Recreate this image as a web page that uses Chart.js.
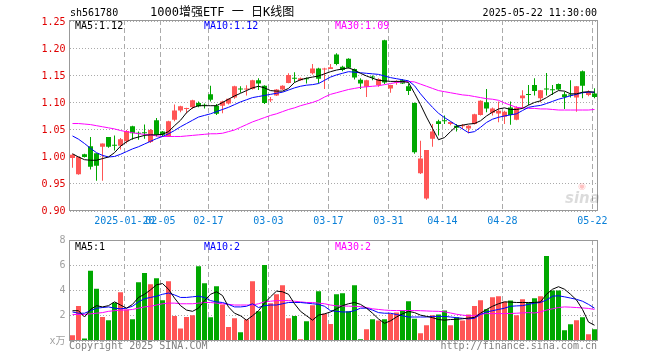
<!DOCTYPE html>
<html>
<head>
<meta charset="utf-8">
<script src="https://cdn.jsdelivr.net/npm/chart.js@4.4.0/dist/chart.umd.min.js"></script>
<style>
  body { margin: 0; background: #fff; width: 660px; height: 360px; position: relative; overflow: hidden;
         font-family: 'DejaVu Sans Mono', 'Noto Sans CJK SC', monospace; font-size: 10px; }
  canvas { position: absolute; left: 0; }
  .t { position: absolute; white-space: nowrap; line-height: 12px; }
</style>
</head>
<body>
<canvas id="kline" width="660" height="232" style="top:0"></canvas>
<canvas id="vol" width="660" height="130" style="top:230px"></canvas>

<div class="t" style="left:70px;top:7px">sh561780</div>
<div class="t" style="left:150px;top:6px;font-size:12px;font-family:'DejaVu Sans Mono','Noto Sans CJK SC',monospace">1000增强ETF 一 日K线图</div>
<div class="t" style="right:63px;top:7px">2025-05-22 11:30:00</div>
<div class="t" id="lg5" style="left:75px;top:20px;color:#000"></div>
<div class="t" id="lg10" style="left:204px;top:20px;color:#0000ff"></div>
<div class="t" id="lg30" style="left:335px;top:20px;color:#ff00ff"></div>
<div class="t" id="vg5" style="left:75px;top:241px;color:#000"></div>
<div class="t" id="vg10" style="left:204px;top:241px;color:#0000ff"></div>
<div class="t" id="vg30" style="left:335px;top:241px;color:#ff00ff"></div>
<div class="t" style="left:578px;top:181px;font:bold 9px 'DejaVu Sans',sans-serif;color:rgba(255,80,80,0.35)">◉</div>
<div class="t" style="left:565px;top:189px;font:italic bold 15px 'DejaVu Sans',sans-serif;color:rgba(0,0,0,0.14)">sina</div>
<div class="t" style="left:69px;top:340px;color:#808080">Copyright 2025 SINA.COM</div>
<div class="t" style="right:63px;top:340px;color:#808080">http://finance.sina.com.cn</div>

<script>
// ---- data ----
const opens = [0.998,0.968,1.005,1.020,1.007,1.019,1.037,1.022,1.021,1.029,
  1.057,1.044,1.045,1.028,1.068,1.047,1.038,1.069,1.086,1.089,
  1.092,1.100,1.096,1.116,1.095,1.095,1.099,1.110,1.1255,1.125,
  1.126,1.142,1.132,1.105,1.114,1.125,1.137,1.146,1.142,1.145,
  1.155,1.164,1.162,1.163,1.190,1.167,1.182,1.163,1.143,1.130,
  1.148,1.1335,1.216,1.127,1.138,1.142,1.131,1.100,0.970,0.923,
  1.034,1.066,1.0665,1.061,1.058,1.057,1.053,1.061,1.078,1.1015,
  1.082,1.0805,1.0744,1.0916,1.069,1.109,1.1155,1.1335,1.109,1.127,
  1.124,1.135,1.116,1.1145,1.110,1.159,1.115,1.1175];
const closes = [1.004,1.000,1.000,0.982,0.984,1.025,1.019,1.021,1.033,1.048,
  1.044,1.043,1.044,1.050,1.041,1.041,1.066,1.086,1.094,1.090,
  1.105,1.094,1.095,1.106,1.080,1.103,1.108,1.131,1.125,1.126,
  1.142,1.136,1.100,1.107,1.125,1.132,1.152,1.145,1.146,1.144,
  1.164,1.145,1.163,1.166,1.172,1.161,1.1655,1.147,1.136,1.142,
  1.147,1.1446,1.138,1.1335,1.139,1.136,1.122,1.009,0.997,1.013,
  1.047,1.061,1.066,1.065,1.054,1.059,1.058,1.079,1.104,1.090,
  1.090,1.0855,1.084,1.078,1.0916,1.114,1.115,1.1224,1.1236,1.125,
  1.1235,1.125,1.111,1.114,1.131,1.132,1.120,1.111];
const highs = [1.006,1.001,1.006,1.037,1.007,1.025,1.037,1.040,1.035,1.050,
  1.058,1.047,1.060,1.052,1.072,1.048,1.067,1.097,1.095,1.091,
  1.106,1.103,1.099,1.132,1.098,1.104,1.108,1.132,1.131,1.133,
  1.143,1.146,1.133,1.111,1.126,1.133,1.155,1.157,1.147,1.147,
  1.172,1.1655,1.1655,1.172,1.192,1.169,1.183,1.164,1.146,1.143,
  1.151,1.146,1.217,1.134,1.142,1.1446,1.136,1.101,1.030,1.013,
  1.061,1.069,1.077,1.0658,1.061,1.061,1.059,1.080,1.105,1.126,
  1.0915,1.103,1.0855,1.1027,1.094,1.1236,1.1335,1.146,1.124,1.1557,
  1.1335,1.136,1.121,1.142,1.1315,1.160,1.1236,1.1273];
const lows = [0.980,0.967,0.999,0.977,0.956,0.956,1.017,1.012,1.014,1.025,
  1.032,1.032,1.034,1.026,1.038,1.038,1.037,1.066,1.083,1.081,
  1.089,1.092,1.090,1.103,1.078,1.081,1.097,1.108,1.119,1.114,
  1.125,1.124,1.098,1.102,1.113,1.124,1.1365,1.138,1.141,1.136,
  1.153,1.136,1.126,1.163,1.170,1.159,1.164,1.1435,1.126,1.111,
  1.142,1.130,1.135,1.119,1.134,1.135,1.115,1.006,0.9685,0.921,
  1.019,1.040,1.061,1.059,1.047,1.052,1.044,1.060,1.077,1.083,
  1.077,1.0645,1.061,1.0596,1.068,1.090,1.0965,1.114,1.1015,1.114,
  1.115,1.1236,1.089,1.110,1.084,1.109,1.1126,1.109];

// price moving averages as drawn
const ma5 = [1.006,1.000,0.995,0.994,0.994,0.997,1.000,1.008,1.020,1.028,
  1.034,1.037,1.040,1.041,1.041,1.042,1.047,1.058,1.068,1.082,
  1.091,1.095,1.095,1.095,1.095,1.101,1.107,1.113,1.118,1.123,
  1.128,1.131,1.128,1.123,1.122,1.122,1.127,1.138,1.143,1.146,
  1.148,1.150,1.154,1.158,1.161,1.163,1.165,1.161,1.155,1.150,
  1.146,1.142,1.141,1.140,1.140,1.140,1.138,1.118,1.097,1.074,
  1.053,1.032,1.036,1.047,1.057,1.059,1.061,1.062,1.067,1.076,
  1.083,1.089,1.091,1.088,1.088,1.090,1.096,1.101,1.104,1.110,
  1.117,1.123,1.122,1.117,1.117,1.120,1.121,1.120];
const ma10 = [1.039,1.033,1.025,1.016,1.008,1.003,1.000,1.001,1.005,1.010,
  1.015,1.019,1.024,1.029,1.034,1.038,1.043,1.049,1.056,1.062,
  1.068,1.074,1.077,1.080,1.084,1.088,1.092,1.097,1.102,1.106,
  1.110,1.112,1.114,1.116,1.118,1.120,1.124,1.128,1.131,1.133,
  1.134,1.136,1.142,1.148,1.152,1.155,1.158,1.157,1.156,1.155,
  1.154,1.153,1.150,1.147,1.145,1.143,1.141,1.132,1.117,1.104,
  1.092,1.081,1.073,1.066,1.059,1.052,1.045,1.047,1.055,1.064,
  1.070,1.0735,1.076,1.078,1.080,1.086,1.092,1.094,1.0955,1.099,
  1.103,1.107,1.110,1.1135,1.116,1.119,1.120,1.120];
const ma30 = [1.062,1.062,1.061,1.060,1.058,1.056,1.054,1.052,1.049,1.047,
  1.045,1.043,1.042,1.041,1.039,1.038,1.038,1.038,1.038,1.039,
  1.040,1.041,1.042,1.043,1.043,1.044,1.047,1.050,1.055,1.060,
  1.065,1.069,1.073,1.077,1.080,1.084,1.088,1.091,1.095,1.098,
  1.101,1.105,1.111,1.116,1.119,1.122,1.125,1.127,1.129,1.130,
  1.131,1.132,1.134,1.136,1.138,1.139,1.140,1.139,1.135,1.131,
  1.127,1.123,1.121,1.119,1.117,1.115,1.114,1.112,1.110,1.108,
  1.107,1.105,1.100,1.096,1.092,1.091,1.090,1.090,1.089,1.089,
  1.088,1.087,1.087,1.087,1.087,1.087,1.087,1.088];

// volume, in 万
const volumes = [0.45,2.78,0.2,5.56,4.13,1.9,1.64,3.02,3.87,2.5,
  1.72,4.66,5.38,4.5,4.98,3.23,4.74,1.99,1.0,1.9,
  2.04,5.93,4.58,1.88,4.34,2.9,1.1,1.8,0.69,1.7,
  4.74,2.36,6.01,3.0,3.7,4.42,1.8,1.99,0.13,1.56,
  2.83,3.95,2.15,1.35,3.71,3.79,2.36,4.42,0.13,0.93,
  1.72,1.62,1.72,2.15,2.25,2.41,3.15,1.77,0.61,1.25,
  2.04,2.09,2.41,1.25,1.88,1.62,2.09,2.78,3.23,2.52,
  3.47,3.55,3.1,3.2,2.04,3.31,3.05,3.39,3.55,6.73,
  4.0,4.0,0.85,1.32,1.64,1.88,0.53,0.93];
const vma5 = [2.4,2.4,1.9,2.5,2.8,2.7,2.8,3.1,2.85,2.6,
  2.9,3.45,3.7,4.05,4.45,4.55,4.1,3.4,2.8,2.45,
  2.35,2.6,3.2,3.7,3.9,3.6,2.7,2.2,2.0,1.65,
  2.0,2.4,3.0,3.5,3.95,3.9,3.7,2.95,2.35,2.0,
  1.65,2.05,2.15,2.3,2.55,2.8,2.95,3.05,2.9,2.6,
  2.2,1.75,1.4,1.6,1.9,2.15,2.35,2.25,2.05,1.95,
  1.85,1.7,1.65,1.7,1.72,1.76,1.82,1.87,2.2,2.5,
  2.75,2.95,3.1,3.08,3.05,3.05,3.05,3.05,3.1,3.7,
  4.1,4.3,4.1,3.7,3.25,2.5,1.5,1.25];
const vma10 = [2.3,2.2,2.2,2.4,2.6,2.65,2.7,2.6,2.55,2.6,
  2.75,3.1,3.35,3.45,3.55,3.7,3.8,3.65,3.45,3.45,
  3.5,3.55,3.45,3.2,3.1,3.05,2.9,2.7,2.7,2.75,
  2.95,2.65,2.8,2.85,2.85,2.95,3.05,3.05,3.05,3.0,
  2.95,2.9,2.75,2.4,2.35,2.3,2.3,2.4,2.6,2.6,
  2.45,2.25,2.2,2.2,2.1,2.0,1.9,1.9,1.9,1.9,
  1.95,1.95,1.95,1.9,1.85,1.8,1.75,1.8,2.1,2.3,
  2.4,2.5,2.6,2.75,2.78,2.8,2.9,3.0,3.05,3.25,
  3.55,3.58,3.5,3.4,3.3,3.15,2.9,2.6];
const vma30 = [2.1,2.1,2.1,2.15,2.2,2.25,2.35,2.4,2.45,2.45,
  2.5,2.6,2.7,2.75,2.85,2.95,3.0,3.0,2.95,2.95,
  2.95,3.0,3.05,3.05,3.0,2.95,2.9,2.85,2.85,2.85,
  2.85,2.95,3.1,3.15,3.2,3.2,3.2,3.15,3.1,3.05,
  3.05,3.0,2.95,2.85,2.78,2.77,2.76,2.75,2.73,2.65,
  2.55,2.5,2.45,2.42,2.41,2.41,2.41,2.41,2.4,2.38,
  2.36,2.35,2.31,2.22,2.12,2.05,2.0,2.0,2.12,2.17,
  2.17,2.17,2.17,2.18,2.2,2.23,2.25,2.22,2.3,2.45,
  2.55,2.65,2.7,2.68,2.65,2.62,2.58,2.5];

// axes
const xTickIdx = [9, 15, 23, 33, 43, 53, 62, 72, 87];
const xTickLabels = ['2025-01-20', '02-05', '02-17', '03-03', '03-17', '03-31', '04-14', '04-28', '05-22'];
const priceTicks = [0.90, 0.95, 1.00, 1.05, 1.10, 1.15, 1.20, 1.25];
const volTicks = [0, 2, 4, 6, 8];

// ---- styling ----
const UP = '#ff5555';
const DOWN = '#00a800';
const GRID = '#aaaaaa';
const FONT = { family: "'DejaVu Sans Mono', 'Noto Sans CJK SC', monospace", size: 10 };

Chart.defaults.font.family = FONT.family;
Chart.defaults.font.size = FONT.size;

const days = closes.map((_, i) => i);
const candleColors = closes.map((c, i) => (c >= opens[i] ? UP : DOWN));

function maLine(data, color) {
  return { type: 'line', data, borderColor: color, borderWidth: 1, pointRadius: 0,
           tension: 0, fill: false, order: 0 };
}

// grey frame round the plot area
const framePlugin = {
  id: 'frame',
  afterDraw(chart) {
    const { ctx, chartArea: a } = chart;
    ctx.save();
    ctx.strokeStyle = '#999';
    ctx.lineWidth = 1;
    ctx.strokeRect(69.5, Math.round(a.top) + 0.5, 528, Math.round(a.bottom - a.top) - 1);
    ctx.restore();
  }
};

function xScale(height, showLabels) {
  return {
    offset: true,
    afterFit: s => { s.height = height; },
    afterBuildTicks: s => { s.ticks = xTickIdx.map(i => ({ value: i - 0.35 })); },
    ticks: { display: showLabels, autoSkip: false, maxRotation: 0, color: '#0a80d8', padding: 4,
             callback: (v, i) => xTickLabels[i] },
    grid: { color: GRID, drawTicks: false, offset: false },
    border: { display: false, dash: [5, 3] }
  };
}

// Candles: wick = floating bar low..high, body = floating bar open..close
new Chart(document.getElementById('kline'), {
  type: 'bar',
  data: {
    labels: days,
    datasets: [
      maLine(ma5, '#000000'),
      maLine(ma10, '#0000ff'),
      maLine(ma30, '#ff00ff'),
      { data: opens.map((o, i) => [o, closes[i]]), backgroundColor: candleColors,
        barThickness: 5, grouped: false, minBarLength: 1, inflateAmount: 0, order: 1 },
      { data: lows.map((l, i) => [l, highs[i]]), backgroundColor: candleColors,
        barThickness: 1, grouped: false, minBarLength: 1, inflateAmount: 0, order: 2 }
    ]
  },
  options: {
    responsive: false, animation: false,
    layout: { padding: { left: 0, right: 62.5, top: 20, bottom: 0 } },
    plugins: { legend: { display: false }, tooltip: { enabled: false } },
    scales: {
      x: xScale(21, true),
      y: {
        min: 0.9, max: 1.2537,
        afterFit: s => { s.width = 69.5; },
        afterBuildTicks: s => { s.ticks = priceTicks.map(v => ({ value: v })); },
        ticks: { color: '#e00000', padding: 4, callback: v => v.toFixed(2) },
        grid: { color: GRID, drawTicks: false },
        border: { display: false, dash: [1, 2] }
      }
    }
  },
  plugins: [framePlugin]
});

// Volume
new Chart(document.getElementById('vol'), {
  type: 'bar',
  data: {
    labels: days,
    datasets: [
      maLine(vma5, '#000000'),
      maLine(vma10, '#0000ff'),
      maLine(vma30, '#ff00ff'),
      { data: volumes, backgroundColor: candleColors, barThickness: 5, grouped: false,
        inflateAmount: 0, order: 1 }
    ]
  },
  options: {
    responsive: false, animation: false,
    layout: { padding: { left: 0, right: 62.5, top: 10, bottom: 0 } },
    plugins: { legend: { display: false }, tooltip: { enabled: false } },
    scales: {
      x: xScale(19, false),
      y: {
        min: 0, max: 8,
        afterFit: s => { s.width = 69.5; },
        afterBuildTicks: s => { s.ticks = volTicks.map(v => ({ value: v })); },
        ticks: { color: '#a0a0a0', padding: 4, callback: v => (v === 0 ? 'x万' : String(v)) },
        grid: { color: GRID, drawTicks: false },
        border: { display: false, dash: [1, 2] }
      }
    }
  },
  plugins: [framePlugin]
});

// legend texts from the last values
const last = a => a[a.length - 1];
document.getElementById('lg5').textContent = 'MA5:' + last(ma5).toFixed(2);
document.getElementById('lg10').textContent = 'MA10:' + last(ma10).toFixed(2);
document.getElementById('lg30').textContent = 'MA30:' + last(ma30).toFixed(2);
document.getElementById('vg5').textContent = 'MA5:' + Math.floor(last(vma5));
document.getElementById('vg10').textContent = 'MA10:' + Math.floor(last(vma10));
document.getElementById('vg30').textContent = 'MA30:' + Math.floor(last(vma30));
</script>
</body>
</html>
